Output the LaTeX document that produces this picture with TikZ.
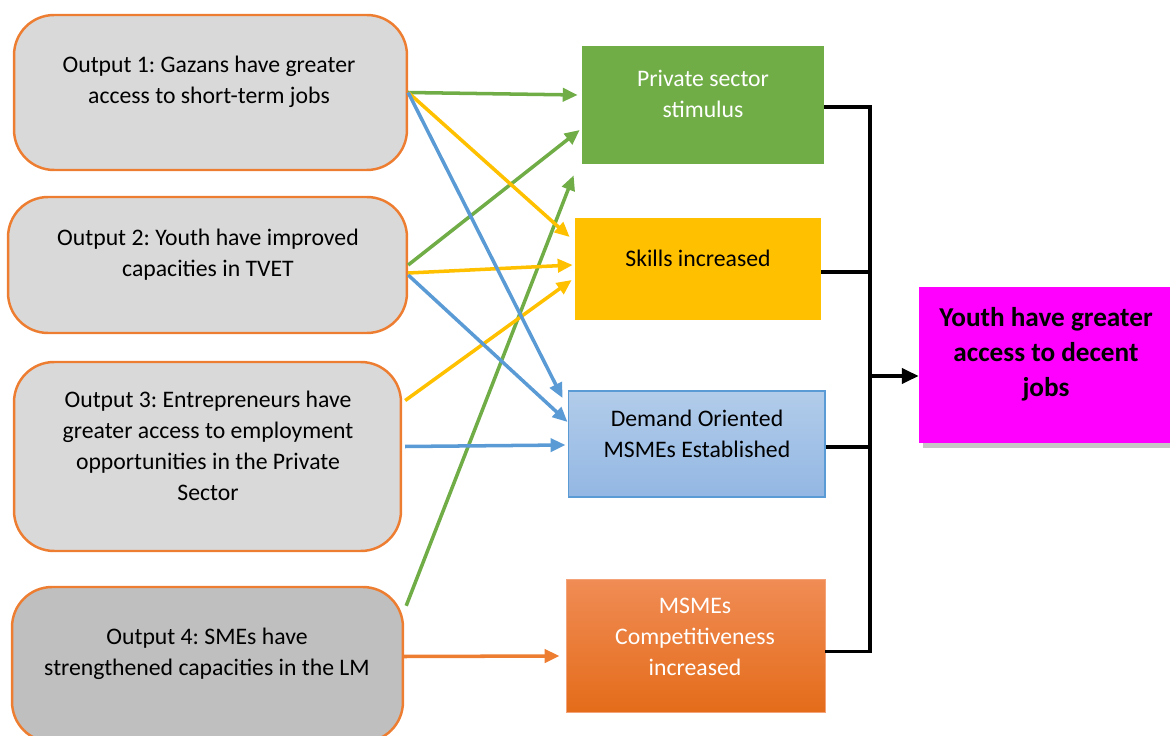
\documentclass[tikz,border=0pt]{standalone}
\usepackage{fontspec}
\setmainfont{Carlito}
\frenchspacing
\usetikzlibrary{arrows.meta,calc,shadows}
\definecolor{outorange}{HTML}{ED7D31}
\definecolor{outgray}{HTML}{D9D9D9}
\definecolor{outdark}{HTML}{BFBFBF}
\definecolor{psgreen}{HTML}{70AD47}
\definecolor{skyellow}{HTML}{FFC000}
\definecolor{dmblue}{HTML}{5B9BD5}
\definecolor{dmtop}{HTML}{B2CCEA}
\definecolor{dmbot}{HTML}{93B7E3}
\definecolor{mctop}{HTML}{F08C55}
\definecolor{mcbot}{HTML}{E46C1A}
\definecolor{yjpink}{HTML}{FF00FF}

\begin{document}
\begin{tikzpicture}[x=0.02cm,y=-0.02cm,
	outbox/.style={draw=outorange, line width=1.4pt, rounded corners=0.8cm, fill=outgray},
	midbox/.style={inner sep=0pt},
	txt/.style={inner sep=0pt, align=center, font=\fontsize{13.5}{17.6}\selectfont},
	arr/.style={line width=2pt, -{Triangle[length=8.5pt,width=7.5pt]}},
	bus/.style={line width=2pt, black}]
	\useasboundingbox (0,0) rectangle (1170,736);
	% outputs
	\node[outbox, minimum width=7.86cm, minimum height=3.1cm] (o1) at (210.5,92.5) {};
	\node[outbox, minimum width=7.98cm, minimum height=2.72cm] (o2) at (207.5,265) {};
	\node[outbox, minimum width=7.74cm, minimum height=3.78cm] (o3) at (207.5,456.5) {};
	\node[outbox, fill=outdark, minimum width=7.82cm, minimum height=3.1cm] (o4) at (207.5,664.5) {};
	\node[txt] (o1t) at (209,82) {Output 1: Gazans have greater\\access to short-term jobs};
	\node[txt] (o2t) at (208,254.5) {Output 2: Youth have improved\\capacities in TVET};
	\node[txt] (o3t) at (208,446) {Output 3: Entrepreneurs have\\greater access to employment\\opportunities in the Private\\Sector};
	\node[txt] (o4t) at (207,653.5) {Output 4: SMEs have\\strengthened capacities in the LM};
	% outcomes
	\node[midbox, fill=psgreen, minimum width=4.84cm, minimum height=2.36cm] (ps) at (703,105) {};
	\node[midbox, fill=skyellow, minimum width=4.92cm, minimum height=2.04cm] (sk) at (698,269) {};
	\node[midbox, draw=dmblue, line width=0.6pt, top color=dmtop, bottom color=dmbot, minimum width=5.14cm, minimum height=2.12cm] (dm) at (696.5,444) {};
	\node[midbox, draw=mctop!80!white, line width=0.5pt, top color=mctop, bottom color=mcbot, minimum width=5.18cm, minimum height=2.66cm] (mc) at (695.5,645.5) {};
	\node[txt, text=white] (pst) at (703,94) {Private sector\\stimulus};
	\node[txt] (skt) at (698,258) {Skills increased};
	\node[txt] (dmt) at (697,433.5) {Demand Oriented\\MSMEs Established};
	\node[txt, text=white] (mct) at (695,637) {MSMEs\\Competitiveness\\increased};
	% goal
	\node[midbox, fill=yjpink, minimum width=5.02cm, minimum height=3.12cm,
		drop shadow={shadow xshift=2pt, shadow yshift=-3pt, opacity=0.45}] (yj) at (1044.5,365) {};
	\node[txt, font=\fontsize{15.5}{19.8}\selectfont\bfseries] (yjt) at (1046,354.5) {Youth have greater\\access to decent\\jobs};
	% green
	\draw[arr, psgreen] (o1.east) -- ($(ps.west)+(-4,-10)$);
	\draw[arr, psgreen] (o2.east) -- ($(ps.west)+(-2,25)$);
	\draw[arr, psgreen] ($(o4.north east)+(2,20)$) -- ($(ps.south west)+(-8,11)$);
	% yellow
	\draw[arr, skyellow] (o1.east) -- ($(sk.west)+(-5,-32)$);
	\draw[arr, skyellow] ($(o2.east)+(0,8)$) -- ($(sk.west)+(-2,-4)$);
	\draw[arr, skyellow] ($(o3.east)+(3,-56)$) -- ($(sk.west)+(-3,11)$);
	% blue
	\draw[arr, dmblue] (o1.east) -- ($(dm.west)+(-5,-46)$);
	\draw[arr, dmblue] ($(o2.east)+(0,10)$) -- ($(dm.west)+(0,-22)$);
	\draw[arr, dmblue] ($(o3.east)+(3,-10)$) -- ($(dm.west)+(-2,1)$);
	% orange
	\draw[arr, outorange] ($(o4.east)+(0,-8)$) -- ($(mc.west)+(-6,10.5)$);
	% bus to goal
	\coordinate (busx) at (870,0);
	\coordinate (pse) at ($(ps.east)+(0,2)$);
	\coordinate (ske) at ($(sk.east)+(0,3)$);
	\coordinate (dme) at ($(dm.east)+(0,3)$);
	\coordinate (mce) at ($(mc.east)+(0,6)$);
	\coordinate (yjw) at ($(yj.west)+(0,11)$);
	\draw[bus] (pse) -- (pse -| busx) -- (mce -| busx) -- (mce);
	\draw[bus] (ske) -- (ske -| busx);
	\draw[bus] (dme) -- (dme -| busx);
	\draw[bus, -{Triangle[length=9.5pt,width=8.5pt]}] (yjw -| busx) -- (yjw);
\end{tikzpicture}
\end{document}
